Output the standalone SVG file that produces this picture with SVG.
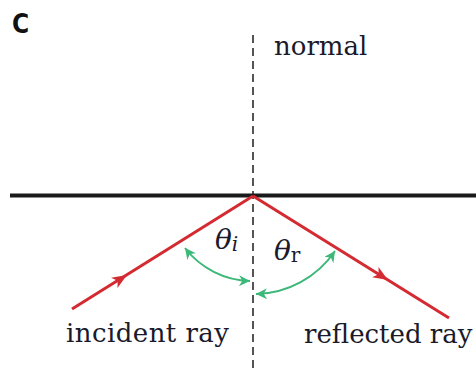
<svg xmlns="http://www.w3.org/2000/svg" width="476" height="372" viewBox="0 0 476 372">
<style>
.serif{font-family:"DejaVu Serif","Liberation Serif",serif;fill:#1a1a2a}
.ray{stroke:#d42a32;stroke-width:3;fill:none}
.ang{stroke:#3cb878;stroke-width:2;fill:none}
</style>
<defs>
<path id="arr" d="M0,0 L-15,-6 L-11,0 L-15,6 Z" fill="#d42a32"/>
<marker id="gh" viewBox="0 0 10 10" refX="10" refY="5" markerWidth="11" markerHeight="11" orient="auto-start-reverse" markerUnits="userSpaceOnUse">
<path d="M0,0 L10,5 L0,10 L3,5 Z" fill="#3cb878"/>
</marker>
</defs>
<g id="label-c"><text x="12" y="33" font-family="'DejaVu Sans Condensed','DejaVu Sans',sans-serif" font-weight="bold" font-size="26" fill="#111">C</text></g>
<g id="connectors">
<line id="normal-line" x1="253" y1="35" x2="253" y2="372" stroke="#555" stroke-width="2" stroke-dasharray="8,5"/>
<line id="surface" x1="10" y1="195.5" x2="476" y2="195.5" stroke="#1a1a1a" stroke-width="4"/>
<polyline id="incident" class="ray" points="72,309 253,196"/>
<polyline id="reflected" class="ray" points="253,196 449,318"/>
<use href="#arr" transform="translate(127,275) rotate(-32)"/>
<use href="#arr" transform="translate(388,280) rotate(32)"/>
<path id="arc-i" class="ang" d="M185,248 A85 85 0 0 0 250,281" marker-start="url(#gh)" marker-end="url(#gh)"/>
<path id="arc-r" class="ang" d="M256,294 A98 98 0 0 0 335,251" marker-start="url(#gh)" marker-end="url(#gh)"/>
</g>
<g id="labels">
<text class="serif" x="274" y="54.5" font-size="26">normal</text>
<text class="serif" x="215" y="249" font-size="28" font-style="italic">θ<tspan font-size="20" dy="2">i</tspan></text>
<text class="serif" x="274" y="260" font-size="28" font-style="italic">θ<tspan font-size="20" dy="2" font-style="normal">r</tspan></text>
<text class="serif" x="66" y="342" font-size="26" textLength="163">incident ray</text>
<text class="serif" x="304" y="343" font-size="26">reflected ray</text>
</g>
</svg>
